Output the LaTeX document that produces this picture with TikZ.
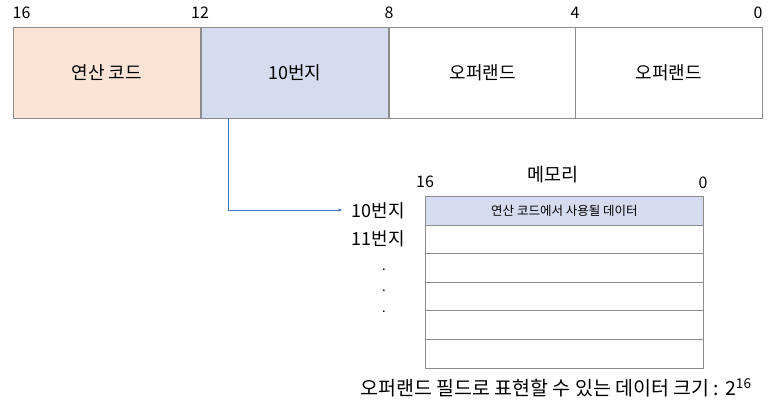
\documentclass[tikz,border=0pt]{standalone}
\usepackage{fontspec}
\setmainfont{Noto Sans CJK KR}
\usetikzlibrary{arrows.meta}
\definecolor{peach}{HTML}{FBE3D6}
\definecolor{lblue}{HTML}{D6DCF0}
\definecolor{edge}{HTML}{8C8C8C}
\definecolor{arrowblue}{HTML}{4472C4}
\tikzset{
  field/.style={draw=edge, line width=0.8pt, minimum width=187pt, minimum height=91pt, inner sep=0pt, font=\fontsize{18}{21}\selectfont, anchor=north west},
  cell/.style={draw=edge, line width=0.8pt, minimum width=278pt, minimum height=28.6pt, inner sep=0pt, font=\fontsize{12.5}{14}\selectfont, anchor=north west},
  bitnum/.style={font=\fontsize{16}{18}\selectfont, inner sep=0pt},
  addr/.style={font=\fontsize{18}{21}\selectfont, inner sep=0pt, anchor=east},
  dotlbl/.style={font=\fontsize{13}{15}\selectfont, inner sep=0pt},
}
\begin{document}
\begin{tikzpicture}[x=1pt,y=-1pt]
\useasboundingbox (0,0) rectangle (774,405);
% instruction fields
\node[field, fill=peach] (op) at (13,27) {연산 코드};
\node[field, fill=lblue] (adr) at (201,27) {10번지};
\node[field, fill=white] (opd1) at (389,27) {오퍼랜드};
\node[field, fill=white] (opd2) at (575,27) {오퍼랜드};
% bit numbers
\node[bitnum] (b16) at (21.5,13) {16};
\node[bitnum] (b12) at (200,13) {12};
\node[bitnum] (b8) at (389,13) {8};
\node[bitnum] (b4) at (575,13) {4};
\node[bitnum] (b0) at (758,13) {0};
% memory
\node[font=\fontsize{18.5}{21}\selectfont, inner sep=0pt] (memtitle) at (553,175) {메모리};
\node[bitnum] (m16) at (425,182) {16};
\node[bitnum] (m0) at (703,183) {0};
\node[cell, fill=lblue] (c1) at (425,196) {연산 코드에서 사용될 데이터};
\node[cell] (c2) at (425,224.6) {};
\node[cell] (c3) at (425,253.2) {};
\node[cell] (c4) at (425,281.8) {};
\node[cell] (c5) at (425,310.4) {};
\node[cell] (c6) at (425,339) {};
% addresses
\node[addr] (a10) at (405,211) {10번지};
\node[addr] (a11) at (405,239) {11번지};
\node[dotlbl] (d1) at (384,270) {.};
\node[dotlbl] (d2) at (384,291) {.};
\node[dotlbl] (d3) at (384,312) {.};
% connector
\coordinate (start) at (228,118);
\coordinate (bend) at (228,210);
\draw[arrowblue, line width=0.7pt, -{Latex[length=4pt,width=3.5pt]}] (start) -- (bend) -- ([xshift=-9pt]a10.west |- bend);
% caption
\node[font=\fontsize{19.5}{22}\selectfont, inner sep=0pt] (cap) at (556,388) {오퍼랜드 필드로 표현할 수 있는 데이터 크기 : 2\textsuperscript{16}};
\end{tikzpicture}
\end{document}
